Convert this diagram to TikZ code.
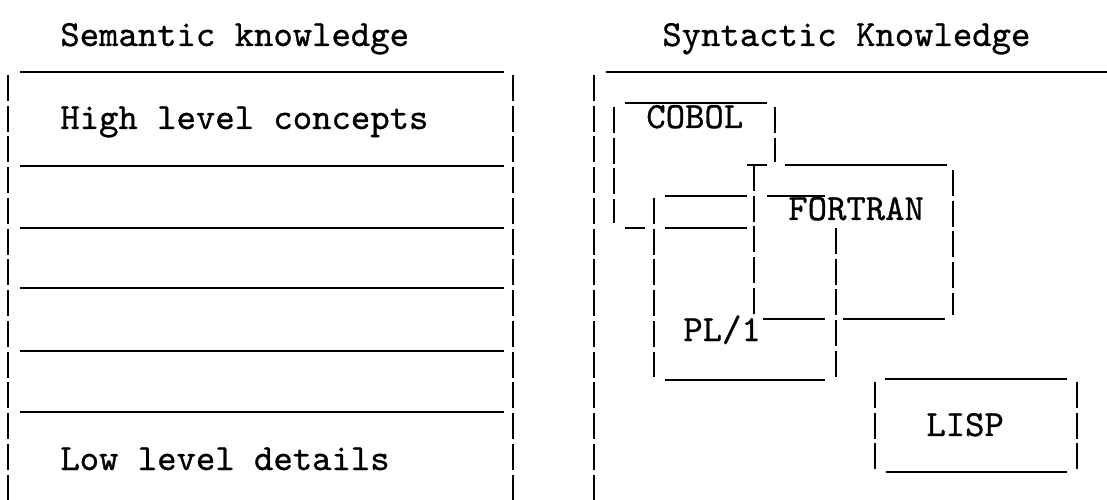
\documentclass[tikz,border=0pt]{standalone}
\usepackage{fontspec}
\newfontfamily\printfont{lmmono10-regular.otf}[FakeBold=0.8]
\tikzset{
  rule/.style={line width=1.3pt},
  bar/.style={line width=1.3pt, dash pattern=on 14.7pt off 2.8pt},
  txt/.style={font=\fontsize{21}{25}\selectfont\printfont, inner sep=0pt, anchor=base west}
}
\begin{document}
\begin{tikzpicture}[x=0.02cm, y=-0.02cm]
    \useasboundingbox (0,0) rectangle (1107,500);

    % Titles
    \node[txt] (sem) at (60,46) {Semantic knowledge};
    \node[txt] (syn) at (662,46) {Syntactic Knowledge};

    % Left column: levels of semantic knowledge
    \draw[rule] (20,72) -- (504,72);
    \draw[bar] (8,75) -- (8,500);
    \draw[bar] (513,75) -- (513,500);
    \foreach \y in {166,228,288,351,412}
        \draw[rule] (20,\y) -- (504,\y);
    \node[txt] (high) at (60,129) {High level concepts};
    \node[txt] (low) at (60,470) {Low level details};

    % Right column frame
    \draw[rule] (606,72) -- (1107,72);
    \draw[bar] (594,75) -- (594,500);

    % COBOL
    \draw[rule] (625,103) -- (767,103);
    \draw[bar] (614,107) -- (614,223);
    \draw[bar] (775,107) -- (775,162);
    \draw[rule] (625,228) -- (645,228);
    \draw[rule] (665,228) -- (747,228);
    \node[txt] (cobol) at (646,128) {COBOL};

    % FORTRAN
    \draw[rule] (747,165) -- (767,165);
    \draw[rule] (785,165) -- (947,165);
    \draw[bar] (754,165) -- (754,315);
    \draw[bar] (953,170) -- (953,315);
    \draw[rule] (763,319) -- (825,319);
    \draw[rule] (843,319) -- (945,319);
    \node[txt] (fortran) at (788,220) {FORTRAN};

    % PL/1
    \draw[rule] (665,196) -- (747,196);
    \draw[rule] (767,196) -- (825,196);
    \draw[bar] (654,198) -- (654,377);
    \draw[bar] (836,228) -- (836,380);
    \draw[rule] (665,380) -- (825,380);
    \node[txt] (pl) at (683,341) {PL/1};

    % LISP
    \draw[rule] (885,379) -- (1067,379);
    \draw[rule] (886,472) -- (1067,472);
    \draw[bar] (875,382) -- (875,470);
    \draw[bar] (1077,382) -- (1077,470);
    \node[txt] (lisp) at (926,436) {LISP};
\end{tikzpicture}
\end{document}
